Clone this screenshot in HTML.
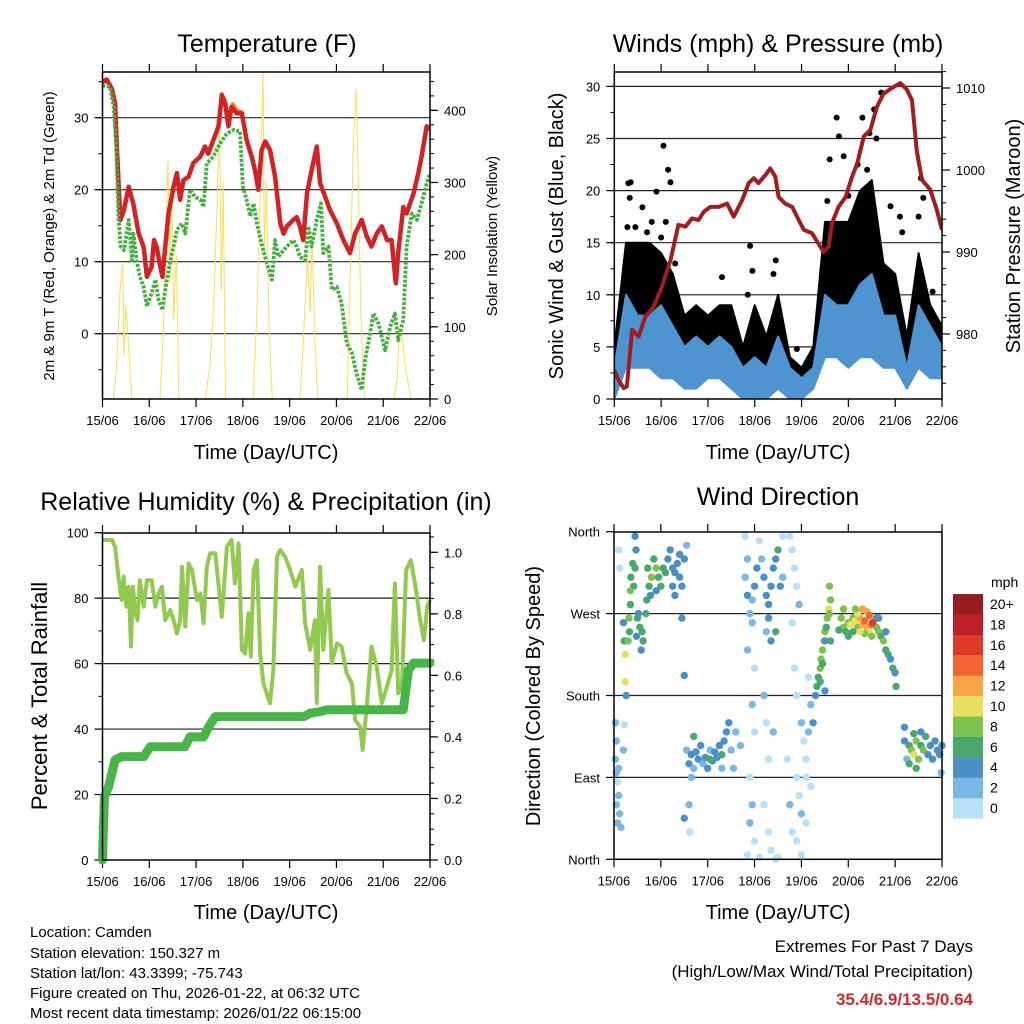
<!DOCTYPE html>
<html><head><meta charset="utf-8"><style>
html,body{margin:0;padding:0;background:#fff;}
svg{display:block;font-family:"Liberation Sans",Arial,sans-serif;}
</style></head><body>
<svg id="chart" width="1024" height="1024" viewBox="0 0 1024 1024">
<rect x="0" y="0" width="1024" height="1024" fill="#fff"/>
<text x="267" y="52" font-size="25" text-anchor="middle">Temperature (F)</text>
<text x="778" y="52" font-size="25" text-anchor="middle">Winds (mph) &amp; Pressure (mb)</text>
<text x="266" y="510" font-size="25" text-anchor="middle">Relative Humidity (%) &amp; Precipitation (in)</text>
<text x="778" y="505" font-size="25" text-anchor="middle">Wind Direction</text>
<text transform="translate(54,236) rotate(-90)" font-size="15" text-anchor="middle">2m &amp; 9m T (Red, Orange) &amp; 2m Td (Green)</text>
<text transform="translate(497,236) rotate(-90)" font-size="15" text-anchor="middle">Solar Insolation (Yellow)</text>
<text transform="translate(563,236) rotate(-90)" font-size="20" text-anchor="middle">Sonic Wind &amp; Gust (Blue, Black)</text>
<text transform="translate(1020,236) rotate(-90)" font-size="20" text-anchor="middle">Station Pressure (Maroon)</text>
<text transform="translate(47,696) rotate(-90)" font-size="22" text-anchor="middle">Percent &amp; Total Rainfall</text>
<text transform="translate(540,696) rotate(-90)" font-size="20" text-anchor="middle">Direction (Colored By Speed)</text>
<text x="266" y="459" font-size="20" text-anchor="middle">Time (Day/UTC)</text>
<text x="778" y="459" font-size="20" text-anchor="middle">Time (Day/UTC)</text>
<text x="266" y="919" font-size="20" text-anchor="middle">Time (Day/UTC)</text>
<text x="778" y="919" font-size="20" text-anchor="middle">Time (Day/UTC)</text>
<g font-size="15">
<text x="30" y="937">Location: Camden</text>
<text x="30" y="958">Station elevation: 150.327 m</text>
<text x="30" y="978">Station lat/lon: 43.3399; -75.743</text>
<text x="30" y="998">Figure created on Thu, 2026-01-22, at 06:32 UTC</text>
<text x="30" y="1018">Most recent data timestamp: 2026/01/22 06:15:00</text>
</g>
<g text-anchor="end">
<text x="973" y="952" font-size="17">Extremes For Past 7 Days</text>
<text x="973" y="977" font-size="17">(High/Low/Max Wind/Total Precipitation)</text>
<text x="973" y="1005" font-size="17" font-weight="bold" fill="#d42a2a">35.4/6.9/13.5/0.64</text>
</g>
</svg>
<script>
const dayLabels=['15/06','16/06','17/06','18/06','19/06','20/06','21/06','22/06'];
const tempT=[0,.09,.2,.27,.31,.38,.45,.56,.66,.77,.88,.95,1.05,1.1,1.16,1.22,1.28,1.34,1.41,1.52,1.59,1.66,1.73,1.84,1.94,2.09,2.19,2.26,2.37,2.48,2.55,2.62,2.69,2.76,2.87,2.98,3.08,3.19,3.26,3.33,3.4,3.48,3.58,3.69,3.8,3.87,3.94,4.08,4.15,4.22,4.29,4.37,4.47,4.58,4.65,4.76,4.86,5.01,5.15,5.29,5.4,5.54,5.65,5.75,5.86,5.97,6.08,6.18,6.27,6.32,6.43,6.5,6.65,6.75,6.82,6.93,7];
const tempV=[35,35.3,34,32,25.5,15.8,17,20.4,18,14,12,7.9,9.3,13,12,9.8,7.9,12,16.7,20.4,22.3,18.6,21.3,21.8,23.7,24.6,26,25,26.9,28.8,33.1,32,28.8,31.5,30.6,30.6,26.9,24.6,22.7,20,25.5,26.7,25.5,21.8,15.3,13.9,14.9,15.8,16.2,14.9,13,19.5,22.7,26,20.9,19,17.2,15.3,13,11.2,13.9,15.8,13.5,12.1,13.9,14.9,13,13,7,11.2,17.6,16.7,19.5,22.3,24.6,28.8,28.3];
const orangeT=[2.5,2.55,2.62,2.7,2.78,2.88,2.98];
const orangeV=[29.2,33.3,32.3,29.5,31.9,31,30.8];
const dewT=[0,.16,.24,.29,.34,.39,.46,.56,.63,.66,.73,.8,.88,.95,1.05,1.13,1.2,1.28,1.35,1.45,1.52,1.59,1.7,1.77,1.87,1.98,2.09,2.16,2.23,2.37,2.51,2.66,2.8,2.94,3,3.08,3.16,3.23,3.3,3.4,3.51,3.62,3.69,3.76,3.87,3.94,4.08,4.15,4.22,4.33,4.4,4.47,4.58,4.67,4.72,4.83,4.9,5.01,5.11,5.22,5.33,5.43,5.54,5.61,5.72,5.79,5.9,6.04,6.15,6.25,6.32,6.43,6.5,6.61,6.72,6.82,6.93,7];
const dewV=[34.5,34.3,31.5,26.4,16.3,12.1,11.6,15.8,10.2,13.9,10.2,7.9,6.5,3.8,5.6,7.5,4.7,3.3,6.5,10.2,12.1,14.4,15.3,13.9,20,19,18.6,17.6,23.7,24.6,26.4,27.8,28.3,28.1,20.4,18.6,16.3,18.1,15.3,12.5,9.8,7.5,13,10.7,11.6,12.1,13,12.1,10.7,10.2,14.9,12.1,15.8,18.1,11.2,12.1,6.1,6.5,4.2,-1.3,-2.7,-5.5,-7.8,-3.7,0,2.8,1.4,-2.3,1,2.8,-0.9,1.9,12.1,16.7,15.8,18.1,20.9,22.3];
const solarT=[0,.23,.3,.37,.43,.46,.5,.56,.63,1.23,1.3,1.36,1.4,1.44,1.48,1.52,1.58,1.63,2.2,2.3,2.38,2.45,2.5,2.54,2.58,2.63,3.22,3.3,3.38,3.43,3.46,3.5,3.56,3.63,4.22,4.3,4.38,4.44,4.48,4.53,4.6,5.23,5.3,5.36,5.42,5.47,5.52,5.6,6.23,6.3,6.35,6.42,6.48,6.6,7];
const solarV=[0,0,40,146,190,60,130,70,0,0,90,250,330,160,300,110,200,0,0,50,130,270,400,150,300,0,0,120,300,460,200,300,100,0,0,90,200,120,230,100,0,0,180,350,430,300,120,0,0,30,100,80,40,0,0];
const presT=[0,.09,.2,.27,.38,.52,.66,.84,1.02,1.2,1.37,1.52,1.66,1.8,1.91,2.05,2.23,2.41,2.55,2.73,2.87,2.98,3.08,3.23,3.33,3.44,3.51,3.65,3.8,3.94,4.05,4.22,4.33,4.47,4.58,4.65,4.79,4.94,5.08,5.19,5.33,5.47,5.61,5.75,5.93,6.11,6.25,6.36,6.46,6.57,6.75,6.89,7];
const presV=[975.6,974.4,973.4,973.6,980.5,979.7,982.1,983.3,985.8,989,993.3,993.1,994.1,993.9,994.9,995.5,995.5,995.9,994.3,996.3,998.4,999,998.4,999.4,1000.2,999.2,996.7,995.9,995.5,993.9,992.7,992.3,991.3,990,990.7,993.5,995.5,996.7,999.2,1000.8,1004.1,1004.9,1007.7,1009.3,1010,1010.6,1009.8,1008.5,1002.4,998.8,997.6,995.1,992.7];
const windT=[0,.25,.5,.75,1,1.25,1.5,1.75,2,2.25,2.5,2.75,3,3.25,3.5,3.75,4,4.25,4.5,4.75,5,5.25,5.5,5.75,6,6.25,6.5,6.75,7];
const windLo=[0,3,3,3,2,2,1,1,2,2,1,0,0,0,1,0,0,1,4,4,3,4,4,3,3,1,3,2,2];
const windHi=[3,10,8,8,9,7,5,6,5,6,5,3,4,3,6,3,2,3,10,9,9,11,12,8,8,3,9,7,5];
const gustLo=[2,5,6,6,5,4,2,4,3,4,3,1,2,1,4,1,1,2,8,7,7,9,9,6,5,2,6,4,4];
const gustHi=[5,15,15,15,14,12,8,9,8,9,9,5,9,6,10,4,3,5,17,17,17,20,21,13,12,6,14,9,7];
const gustOutT=[.13,.3,.35,.33,.6,.8,.9,1.05,1.15,1.2,1.1,1.3,2.3,2.9,2.95,2.85,3.45,3.4,3.9,4.6,4.75,4.8,4.9,5.3,5.45,5.55,5.7,5.6,5.4,5.9,6.1,6.15,6.55,6.6,6.5,6.8,.28,.45,.7,1.0,4.55,5.0,5.2];
const gustOutV=[8,20.7,20.8,19.3,18.4,17,19.9,24.3,22,20.8,17,13,11.7,14.7,12.3,10,13.3,12,4.8,23,27,25.2,23.3,27,25.5,27.8,29.4,25,22,18.5,17.5,16,21.2,19.3,17.5,10.3,16.5,16.5,16,15.5,19,19.5,22.5];
const rhT=[0,.2,.27,.34,.41,.45,.51,.56,.61,.65,.7,.75,.8,.88,.95,1.05,1.13,1.2,1.27,1.34,1.45,1.52,1.59,1.66,1.7,1.77,1.84,1.91,2.02,2.09,2.16,2.23,2.3,2.41,2.55,2.66,2.76,2.83,2.91,2.98,3.05,3.12,3.17,3.23,3.3,3.37,3.44,3.51,3.58,3.65,3.73,3.8,3.9,4.01,4.12,4.26,4.33,4.44,4.54,4.58,4.65,4.72,4.83,4.9,5.01,5.11,5.22,5.33,5.4,5.51,5.56,5.65,5.75,5.86,5.97,6.08,6.18,6.25,6.32,6.4,6.49,6.59,6.68,6.79,6.87,6.94,7];
const rhV=[97.8,97.8,95.7,86.6,79.4,86.6,77.4,83.5,65.2,83.5,75.4,73.3,85.5,77.4,85.5,85.5,77.4,81.5,83.5,73.3,76.4,73.3,69.2,73.3,89.6,71.3,90.6,88.6,79.4,81.5,72.3,89.6,93.7,93.7,74.3,95.7,97.8,84.5,96.7,64.2,63.1,75.4,62.1,88.6,91.6,63.1,54,50.9,47.9,58,92.7,94.7,92.7,88.6,83.5,88.6,72.3,64.2,73.3,47.9,89.6,64.2,82.5,60.1,66.2,65.2,57,54,42.8,40.7,33.6,46.8,65.2,59.1,47.9,53,58,84.5,50.9,53,88.6,91.6,84.5,73.3,67.2,77.4,79.4];
const rainT=[0,.04,.13,.27,.41,.88,1.02,1.76,1.87,2.16,2.27,2.41,4.3,4.44,4.65,4.79,6.43,6.54,6.65,7];
const rainV=[0,.206,.238,.325,.336,.336,.368,.368,.4,.4,.433,.466,.466,.477,.482,.488,.488,.618,.64,.64];
const dirT=[0.03,0.05,0.03,0.05,0.1,0.08,0.1,0.05,0.12,0.08,0.15,0.22,0.2,0.1,0.12,0.2,0.22,0.24,0.24,0.26,
0.45,0.47,0.45,0.42,0.35,0.35,0.33,0.3,0.32,0.36,0.4,0.5,0.55,0.6,0.62,0.58,0.52,0.48,
0.72,0.75,0.8,0.85,0.9,0.95,1.0,1.05,1.1,0.7,0.68,0.78,0.9,
1.15,1.2,1.25,1.3,1.35,1.4,1.45,1.5,1.55,1.3,1.25,1.4,1.45,1.5,
1.55,1.6,1.65,1.7,1.75,1.8,1.85,1.9,1.95,2.0,2.05,2.1,2.15,2.2,2.25,2.3,2.35,2.4,2.45,2.5,2.55,2.6,2.7,1.65,1.6,1.62,1.5,1.7,2.3,2.05,
2.8,2.85,2.8,2.85,2.9,2.95,2.85,3.0,2.95,3.0,2.9,2.95,2.9,3.0,2.85,3.05,3.0,2.95,3.1,
3.1,3.15,3.2,3.25,3.3,3.35,3.4,3.45,3.5,3.55,3.6,3.25,3.35,3.45,3.3,3.2,3.25,3.3,3.2,3.3,3.35,3.45,3.5,3.6,3.4,
3.75,3.8,3.85,3.9,3.95,3.8,3.85,3.9,4.0,4.05,4.1,3.9,3.95,4.0,3.8,3.9,4.0,4.1,4.15,4.2,4.15,4.25,4.2,4.1,3.7,3.75,
4.3,4.33,4.36,4.4,4.42,4.45,4.48,4.5,4.55,4.58,4.62,4.6,4.53,4.4,4.45,4.5,4.5,4.62,4.6,
4.85,4.9,4.95,5.0,5.05,5.1,5.15,5.2,5.25,5.3,5.35,5.4,5.45,5.5,5.55,5.6,5.65,5.7,5.75,5.8,5.85,5.9,5.95,6.0,6.02,5.2,5.3,5.4,5.1,5.0,5.6,5.5,5.35,5.25,4.9,5.45,5.52,5.65,5.8,4.8,5.15,
6.2,6.25,6.3,6.35,6.4,6.45,6.5,6.55,6.6,6.65,6.7,6.75,6.8,6.85,6.9,6.95,7.0,6.3,6.4,6.55,6.2,6.98,6.45];
const dirV=[150,130,110,95,100,85,70,60,50,40,35,148,120,340,320,260,240,225,195,180,
355,340,320,300,295,280,250,240,265,310,325,265,255,250,240,230,270,245,
320,300,310,330,320,310,300,320,315,285,270,290,295,
330,340,320,315,325,310,300,330,345,290,300,335,265,202,
120,105,115,100,118,110,125,105,112,100,120,108,118,112,125,100,130,140,150,120,100,140,125,90,60,30,45,135,115,110,
355,330,310,290,270,260,230,210,170,140,90,60,40,20,5,320,300,285,2,
350,330,310,290,280,300,320,330,340,300,310,250,240,250,265,180,150,110,60,30,10,0,2,355,140,
355,340,320,300,280,260,210,180,150,130,110,90,70,50,30,20,5,90,200,170,140,150,80,40,110,60,
180,190,200,210,220,230,240,250,265,275,285,270,255,195,215,240,185,240,300,
265,255,250,260,258,265,262,255,265,258,262,255,250,258,263,255,250,245,240,230,225,220,210,205,190,270,275,272,250,245,265,245,248,250,275,268,260,265,250,252,275,
130,110,125,120,115,130,110,125,120,135,115,125,110,130,120,115,125,105,138,140,145,95,100];
const dirS=[2,2,3,2,3,1,2,3,2,3,2,1,2,1,1,4,6,10,10,4,
4,4,6,7,8,6,6,8,8,6,6,6,6,6,6,4,4,4,
7,6,8,6,9,6,6,7,6,6,6,4,4,
4,4,4,4,4,4,4,4,2,4,5,5,4,4,
3,4,4,3,5,4,4,3,4,4,3,4,5,4,4,3,5,4,4,3,3,2,2,2,2,1,4,6,6,6,
1,2,3,4,2,3,2,1,2,1,1,2,2,1,1,4,4,2,1,
1,3,4,4,4,4,5,4,6,4,3,3,4,6,4,2,1,1,1,1,1,1,1,1,2,
1,1,1,1,2,1,1,1,2,1,1,1,1,2,1,1,1,1,1,3,2,4,1,1,1,2,
4,6,6,8,9,8,10,8,8,10,8,9,6,6,6,4,4,6,8,
8,8,6,8,10,8,10,8,12,12,14,12,10,14,10,8,8,6,8,6,6,4,6,4,6,10,12,12,6,6,6,8,8,10,8,14,16,4,4,6,8,
4,3,6,8,10,8,8,6,8,6,4,4,4,4,4,4,4,6,6,5,4,2,6];
const speedColors=['#b7e1f7','#7ab7e5','#4a8fc6','#48a86e','#7dc24e','#e8e05a','#f7a647','#f06530','#de3a2c','#bf1f29','#9a1b1e'];
const speedLabels=['0','2','4','6','8','10','12','14','16','18','20+'];

const NS='http://www.w3.org/2000/svg';
const svg=document.getElementById('chart');
function mk(tag,attrs,parent){const e=document.createElementNS(NS,tag);for(const k in attrs)e.setAttribute(k,attrs[k]);(parent||svg).appendChild(e);return e;}
function grp(name){const g=mk('g',{});return g;}
function lineStr(ts,vs,X,Y){return ts.map((t,i)=>X(t).toFixed(1)+','+Y(vs[i]).toFixed(1)).join(' ');}

const XT=d=>102.5+d*(327.5/7), yT=v=>333.7-v*7.2, yS=s=>399-s*0.7217;
const XW=d=>614.3+d*(327.7/7), yW=v=>399-v*10.42, yP=p=>334-(p-980)*8.2;
const XR=d=>102.5+d*(327.5/7), yR=v=>860-v*3.273, yPr=i=>860-i*307.7;
const XD=d=>614+d*(328/7), yD=a=>859.3-a*(327.6/360);

function panel(name,x0,y0,x1,y1,X,left,right,gridVals){
  const g=grp(name+'-axes');
  const cg=mk('clipPath',{id:name+'-clip'},g);
  mk('rect',{x:x0,y:y0,width:x1-x0,height:y1-y0},cg);
  gridVals.forEach(v=>{const y=left.f(v);const l=mk('line',{x1:x0,x2:x1,y1:y,y2:y,stroke:'#222','stroke-width':1.2},g);});
  for(let d=0;d<=7;d++){const x=X(d);
    mk('line',{x1:x,x2:x,y1:y1,y2:y1+8,stroke:'#000','stroke-width':1.2},g);
    mk('line',{x1:x,x2:x,y1:y0,y2:y0-8,stroke:'#000','stroke-width':1.2},g);
    const t=mk('text',{x:x,y:y1+26,'font-size':13,'text-anchor':'middle'},g);t.textContent=dayLabels[d];
    }
  function axis(a,side){if(!a)return;const xe=side<0?x0:x1;
    a.minor.forEach(v=>{const y=a.f(v);if(y<y0-0.5||y>y1+0.5)return;mk('line',{x1:xe,x2:xe+side*4,y1:y,y2:y,stroke:'#000','stroke-width':1},g);});
    a.major.forEach((v,i)=>{const y=a.f(v);mk('line',{x1:xe,x2:xe+side*8,y1:y,y2:y,stroke:'#000','stroke-width':1.2},g);
      const t=mk('text',{x:xe+side*14,y:y+5,'font-size':13,'text-anchor':side<0?'end':'start'},g);t.textContent=a.labels[i];
      });}
  axis(left,-1);axis(right,1);
  return g;
}
function frame(name,x0,y0,x1,y1){const r=mk('rect',{x:x0,y:y0,width:x1-x0,height:y1-y0,fill:'none',stroke:'#000','stroke-width':1.5});}
function range(a,b,s){const r=[];for(let v=a;v<=b+1e-9;v+=s)r.push(+v.toFixed(3));return r;}

panel('temp',102.5,72,430,399,XT,
 {f:yT,major:[0,10,20,30],labels:['0','10','20','30'],minor:range(-5,35,5)},
 {f:yS,major:[0,100,200,300,400],labels:['0','100','200','300','400'],minor:range(0,460,20)},[0,10,20,30]);
{const g=grp('temperature-series');g.setAttribute('clip-path','url(#temp-clip)');
 const s=mk('polyline',{points:lineStr(solarT,solarV,XT,yS),fill:'none',stroke:'#f7df5a','stroke-width':1},g);
 const o=mk('polyline',{points:lineStr(orangeT,orangeV,XT,yT),fill:'none',stroke:'#f28a2e','stroke-width':4,'stroke-linejoin':'round'},g);
 const r=mk('polyline',{points:lineStr(tempT,tempV,XT,yT),fill:'none',stroke:'#d42224','stroke-width':4.5,'stroke-linejoin':'round'},g);
 const d=mk('polyline',{points:lineStr(dewT,dewV,XT,yT),fill:'none',stroke:'#45b03f','stroke-width':3.8,'stroke-dasharray':'3 1.5','stroke-linejoin':'round'},g);}
frame('temp',102.5,72,430,399);

panel('wind',614.3,72,942,399,XW,
 {f:yW,major:[0,5,10,15,20,25,30],labels:['0','5','10','15','20','25','30'],minor:range(0,30,2.5)},
 {f:yP,major:[980,990,1000,1010],labels:['980','990','1000','1010'],minor:range(972,1012,2)},[5,10,15,20,25,30]);
{const g=grp('wind-series');g.setAttribute('clip-path','url(#wind-clip)');
 const gp=windT.map((t,i)=>XW(t).toFixed(1)+','+yW(gustHi[i]).toFixed(1)).concat(windT.map((t,i)=>XW(t).toFixed(1)+','+yW(gustLo[i]).toFixed(1)).reverse()).join(' ');
 const ga=mk('polygon',{points:gp,fill:'#000',stroke:'#000','stroke-width':2,'stroke-linejoin':'round'},g);
 gustOutT.forEach((t,i)=>{const c=mk('circle',{cx:XW(t),cy:yW(gustOutV[i]),r:3,fill:'#000'},g);});
 const wp=windT.map((t,i)=>XW(t).toFixed(1)+','+yW(windHi[i]).toFixed(1)).concat(windT.map((t,i)=>XW(t).toFixed(1)+','+yW(windLo[i]).toFixed(1)).reverse()).join(' ');
 const wa=mk('polygon',{points:wp,fill:'#4d94d0',stroke:'#4d94d0','stroke-width':2,'stroke-linejoin':'round'},g);
 const p=mk('polyline',{points:lineStr(presT,presV,XW,yP),fill:'none',stroke:'#a11d1f','stroke-width':4,'stroke-linejoin':'round'},g);}
frame('wind',614.3,72,942,399);

panel('rh',102.5,533,430,860,XR,
 {f:yR,major:[0,20,40,60,80,100],labels:['0','20','40','60','80','100'],minor:range(0,100,10)},
 {f:yPr,major:[0,.2,.4,.6,.8,1.0],labels:['0.0','0.2','0.4','0.6','0.8','1.0'],minor:range(0,1.05,0.05)},[20,40,60,80]);
{const g=grp('rh-series');
 const h=mk('polyline',{points:lineStr(rhT,rhV,XR,yR),fill:'none',stroke:'#92c94f','stroke-width':4,'stroke-linejoin':'round'},g);
 const r=mk('polyline',{points:lineStr(rainT,rainV,XR,yPr),fill:'none',stroke:'#48b548','stroke-width':9,'stroke-linejoin':'round','stroke-linecap':'round'},g);}
frame('rh',102.5,533,430,860);

panel('dir',614,532,942,859.3,XD,
 {f:yD,major:[0,90,180,270,360],labels:['North','East','South','West','North'],minor:[]},null,[90,180,270]);
{const g=grp('wind-direction-points');
 dirT.forEach((t,i)=>{const c=mk('circle',{cx:XD(t).toFixed(1),cy:yD(dirV[i]).toFixed(1),r:3.7,fill:speedColors[Math.min(10,Math.floor(dirS[i]/2))]},g);
  
  });}
frame('dir',614,532,942,859.3);

{const g=grp('speed-colorbar');
 const u=mk('text',{x:991,y:587,'font-size':14},g);u.textContent='mph';
 speedColors.forEach((c,i)=>{const y=594+(10-i)*20.4;
  const r=mk('rect',{x:953,y:y,width:30,height:20.6,fill:c},g);
  
  
  const t=mk('text',{x:990,y:y+15,'font-size':14},g);t.textContent=speedLabels[i];
  
  });}
</script>
</body></html>
